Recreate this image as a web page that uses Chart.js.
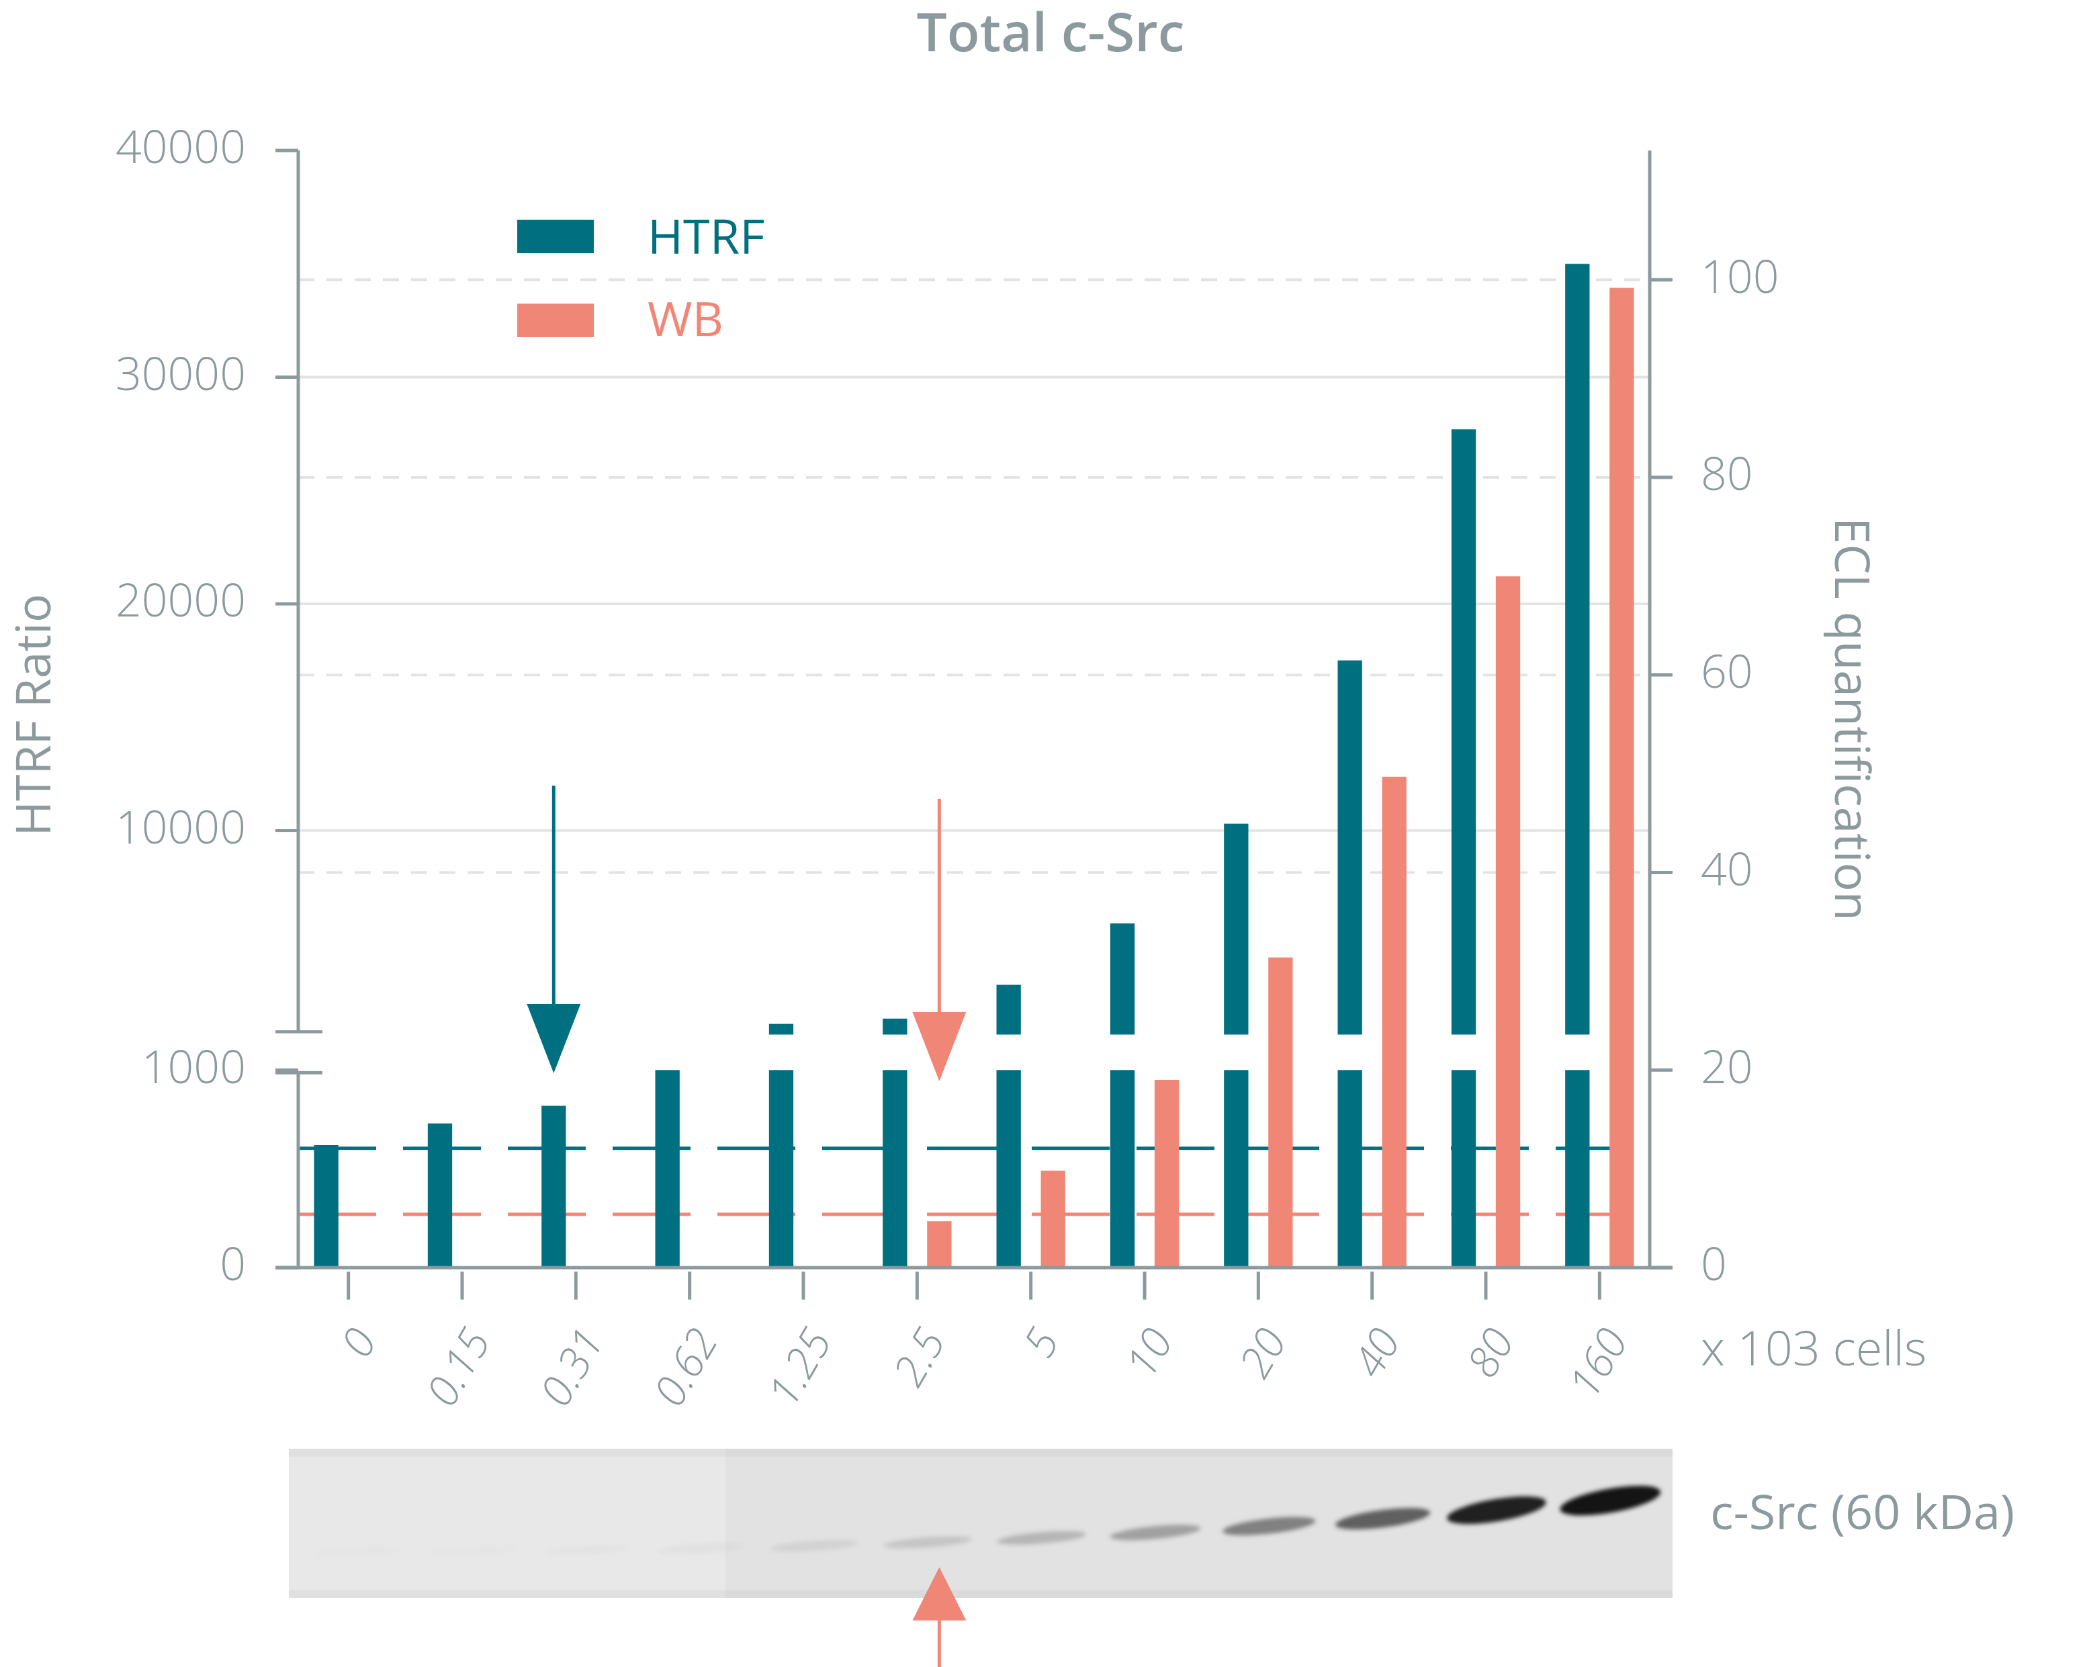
<!DOCTYPE html>
<html><head><meta charset="utf-8">
<script src="https://cdn.jsdelivr.net/npm/chart.js@4"></script>
<style>
html,body{margin:0;padding:0;background:#fff}
#outer{width:2085px;height:1667px;overflow:hidden;position:relative}
#wrap{position:absolute;left:0;top:0;width:1552px;height:1252px;transform:scale(1.3434,1.3315);transform-origin:0 0}
</style></head><body>
<div id="outer"><div id="wrap"><canvas id="c" width="1552" height="1252"></canvas></div></div>
<script>
const categories = ['0','0.15','0.31','0.62','1.25','2.5','5','10','20','40','80','160'];
const htrfRatio = [620, 730, 820, 1000, 1470, 1700, 3200, 5900, 10300, 17500, 27700, 35000];
const eclQuant = [0, 0, 0, 0, 0, 4.7, 9.8, 19, 31.4, 49.7, 70, 99.2];
const blotIntensity = [0.01, 0.01, 0.02, 0.03, 0.07, 0.13, 0.2, 0.3, 0.45, 0.6, 0.9, 1.0];
const leftTicks = [0, 1000, 10000, 20000, 30000, 40000];
const rightTicks = [0, 20, 40, 60, 80, 100];
const htrfLOD = 604, eclLOD = 5.4;
const htrfArrowCat = 2, wbArrowCat = 5;

const TEAL='#006f80', SALMON='#f08676', GREY='#8c9a9e';
const FONT='"Open Sans", "Noto Sans", sans-serif';
const LOW_TOP=20, UP_BASE=23.6, TOP=113.1;
function htrfToUnit(v){ return v<=1000 ? v/1000*LOW_TOP : UP_BASE + (v-1000)/39000*(TOP-UP_BASE); }

const deco = {
  id:'deco',
  beforeDatasetsDraw(ch){
    const c=ch.ctx, y=ch.scales.y, L=222, R=1228;
    c.save();
    c.strokeStyle='#e2e4e4'; c.lineWidth=2;
    [10000,20000,30000].forEach(v=>{const p=y.getPixelForValue(htrfToUnit(v));c.beginPath();c.moveTo(L,p);c.lineTo(R,p);c.stroke();});
    c.setLineDash([12,9]);
    [40,60,80,100].forEach(v=>{const p=y.getPixelForValue(v);c.beginPath();c.moveTo(L,p);c.lineTo(R,p);c.stroke();});
    c.lineWidth=2.5; c.setLineDash([58,20]);
    c.strokeStyle=TEAL; let p=y.getPixelForValue(htrfToUnit(htrfLOD));
    c.beginPath();c.moveTo(L,p);c.lineTo(1212,p);c.stroke();
    c.strokeStyle=SALMON; p=y.getPixelForValue(eclLOD);
    c.beginPath();c.moveTo(L,p);c.lineTo(1212,p);c.stroke();
    c.restore();
  },
  afterDatasetsDraw(ch){
    const c=ch.ctx, y=ch.scales.y, x=ch.scales.x, L=222, R=1228;
    const y0=y.getPixelForValue(0);
    c.save();
    const gTop=y.getPixelForValue(UP_BASE), gBot=y.getPixelForValue(LOW_TOP);
    const m0=ch.getDatasetMeta(0);
    c.fillStyle='#fff';
    m0.data.forEach((b,i)=>{ if(htrfRatio[i]>1000) c.fillRect(b.x-b.width/2-1,gTop,b.width+2,gBot-gTop); });
    c.strokeStyle=GREY; c.lineWidth=2.5;
    c.beginPath();c.moveTo(L,113);c.lineTo(L,gTop-2);c.moveTo(L,gBot+2);c.lineTo(L,y0);
    c.moveTo(R,113);c.lineTo(R,y0);
    c.moveTo(205,y0);c.lineTo(1245,y0);c.stroke();
    c.beginPath();c.moveTo(205,gTop-2);c.lineTo(240,gTop-2);c.moveTo(205,gBot+2);c.lineTo(240,gBot+2);c.stroke();
    c.fillStyle=GREY; c.font='300 34px '+FONT; c.textAlign='right'; c.textBaseline='middle';
    leftTicks.forEach(v=>{const p=y.getPixelForValue(htrfToUnit(v));
      c.beginPath();c.moveTo(205,p);c.lineTo(L,p);c.stroke(); c.fillText(String(v),183,p);});
    c.textAlign='left';
    rightTicks.forEach(v=>{const p=y.getPixelForValue(v);
      c.beginPath();c.moveTo(R,p);c.lineTo(1245,p);c.stroke(); c.fillText(String(v),1266,p);});
    categories.forEach((t,i)=>{const px=x.getPixelForValue(i);
      c.beginPath();c.moveTo(px,y0+3);c.lineTo(px,y0+24);c.stroke();
      c.save();c.translate(px+14,y0+50);c.rotate(-Math.PI/3);c.textAlign='right';c.textBaseline='middle';
      c.font='italic 300 32px '+FONT;c.fillText(t,0,0);c.restore();});
    c.font='300 36px '+FONT; c.textAlign='left'; c.fillText('x 103 cells',1266,1015);
    c.font='600 40px '+FONT; c.textAlign='center'; c.fillText('Total c-Src',782,27);
    c.font='36px '+FONT;
    c.save();c.translate(27,537);c.rotate(-Math.PI/2);c.fillText('HTRF Ratio',0,0);c.restore();
    c.save();c.translate(1376,540);c.rotate(Math.PI/2);c.fillText('ECL quantification',0,0);c.restore();
    c.fillStyle=TEAL;c.fillRect(385,165,57,25);c.fillStyle=SALMON;c.fillRect(385,228,57,25);
    c.font='36px '+FONT;c.textAlign='left';
    c.fillStyle=TEAL;c.fillText('HTRF',482,180);c.fillStyle=SALMON;c.fillText('WB',482,242);
    const arrow=(ax,yTop,tip,col)=>{c.strokeStyle=col;c.fillStyle=col;c.lineWidth=2.5;
      c.beginPath();c.moveTo(ax,yTop);c.lineTo(ax,tip-40);c.stroke();
      c.beginPath();c.moveTo(ax-20,tip-52);c.lineTo(ax+20,tip-52);c.lineTo(ax,tip);c.closePath();c.fill();};
    arrow(ch.getDatasetMeta(0).data[htrfArrowCat].x,590,806,TEAL);
    const wx=ch.getDatasetMeta(1).data[wbArrowCat].x;
    arrow(wx,600,812,SALMON);
    c.fillStyle='#e2e2e2';c.fillRect(215,1088,1030,112);
    c.fillStyle='#e8e8e8';c.fillRect(215,1088,325,112);
    c.fillStyle='rgba(0,0,0,0.03)';c.fillRect(215,1088,1030,6);c.fillRect(215,1194,1030,6);
    c.filter='blur(3px)';
    blotIntensity.forEach((k,i)=>{const px=x.getPixelForValue(i)+8;
      const by=1165-Math.pow(i/11,2.2)*38; const h=6+k*12;
      c.fillStyle='rgba(20,20,20,'+Math.min(1,k*1.05)+')';
      c.save();c.translate(px,by);c.rotate(-0.06-k*0.12);
      c.beginPath();c.ellipse(0,0,32+k*6,h/2,0,0,Math.PI*2);c.fill();c.restore();});
    c.filter='none';
    c.fillStyle=GREY;c.font='36px '+FONT;c.textAlign='left';c.fillText('c-Src (60 kDa)',1273,1138);
    c.fillStyle=SALMON;c.strokeStyle=SALMON;c.lineWidth=2.5;
    c.beginPath();c.moveTo(wx,1215);c.lineTo(wx,1252);c.stroke();
    c.beginPath();c.moveTo(wx-20,1217);c.lineTo(wx+20,1217);c.lineTo(wx,1177);c.closePath();c.fill();
    c.restore();
  }
};

new Chart(document.getElementById('c'),{
  type:'bar',
  data:{labels:categories,datasets:[
    {label:'HTRF',data:htrfRatio.map(htrfToUnit),backgroundColor:TEAL},
    {label:'WB',data:eclQuant,backgroundColor:SALMON}
  ]},
  options:{responsive:false,animation:false,devicePixelRatio:2,
    layout:{padding:{left:217,right:319,top:113,bottom:300}},
    categoryPercentage:0.78,barPercentage:0.55,
    plugins:{legend:{display:false},tooltip:{enabled:false}},
    scales:{x:{display:false},y:{display:false,min:0,max:TOP}}
  },
  plugins:[deco]
});
</script></body></html>
